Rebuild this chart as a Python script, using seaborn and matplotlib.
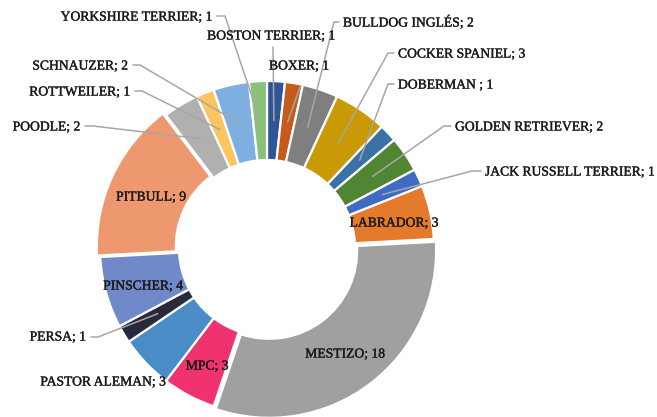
import math
import matplotlib
matplotlib.use("Agg")
import matplotlib.pyplot as plt
import matplotlib.patheffects as pe
import seaborn as sns

# Breeds and counts, clockwise from 12 o'clock
breeds = ["BOSTON TERRIER", "BOXER", "BULLDOG INGLÉS", "COCKER SPANIEL",
          "DOBERMAN ", "GOLDEN RETRIEVER", "JACK RUSSELL TERRIER", "LABRADOR",
          "MESTIZO", "MPC", "PASTOR ALEMAN", "PERSA", "PINSCHER", "PITBULL",
          "POODLE", "ROTTWEILER", "SCHNAUZER", "YORKSHIRE TERRIER"]
counts = [1, 1, 2, 3, 1, 2, 1, 3, 18, 3, 3, 1, 4, 9, 2, 1, 2, 1]
colors = ["#2F5597", "#C55A1A", "#7F7F7F", "#C99A06", "#3A72A8", "#508534",
          "#3F6CC2", "#E57A2C", "#A0A0A0", "#F0336E", "#4A8CC6", "#262A3A",
          "#6F89C9", "#EE9870", "#B0B0B0", "#FDC55F", "#7DB0E0", "#8CC17A"]

W, H = 657, 417
sns.set_theme(style="white")
plt.rcParams["font.family"] = ["Liberation Serif", "DejaVu Serif"]

fig = plt.figure(figsize=(W / 100, H / 100), dpi=100)
ax = fig.add_axes([0, 0, 1, 1])

cx, cy = 267, H - 248
R_OUT, RING = 167, 79

wedges, _ = ax.pie(counts, colors=colors, startangle=90, counterclock=False,
                   radius=R_OUT, center=(cx, cy),
                   wedgeprops=dict(width=RING, edgecolor="white", linewidth=1.6))

ax.set_xlim(0, W)
ax.set_ylim(0, H)
ax.set_aspect("equal")
ax.axis("off")

# pull the two biggest slices slightly outward
for w, name in zip(wedges, breeds):
    if name in ("MESTIZO", "PITBULL"):
        mid = math.radians((w.theta1 + w.theta2) / 2)
        w.set_center((cx + 3.5 * math.cos(mid), cy + 3.5 * math.sin(mid)))


def ring_point(w):
    mid = math.radians((w.theta1 + w.theta2) / 2)
    r = R_OUT - RING / 2
    return cx + r * math.cos(mid), cy + r * math.sin(mid)


def P(x, y):
    return x, H - y


# label placement: text anchor (x, y px), horizontal alignment, leader path start points
layout = {
    "BOSTON TERRIER": ((271, 36), "center", [(273, 47)]),
    "BOXER": ((299, 66), "center", [(300, 87)]),
    "BULLDOG INGLÉS": ((343, 22), "left", [(339, 22), (334, 22)]),
    "COCKER SPANIEL": ((398, 54), "left", [(394, 53), (388, 53)]),
    "DOBERMAN ": ((398, 85), "left", [(394, 84), (388, 84)]),
    "GOLDEN RETRIEVER": ((455, 127), "left", [(451, 126), (444, 126)]),
    "JACK RUSSELL TERRIER": ((485, 172), "left", [(481, 171), (472, 171)]),
    "LABRADOR": ((394, 223), "center", None),
    "MESTIZO": ((345, 354), "center", None),
    "MPC": ((207, 366), "center", None),
    "PASTOR ALEMAN": ((103, 382), "center", None),
    "PERSA": ((86, 337), "right", [(91, 337), (98, 337)]),
    "PINSCHER": ((143, 286), "center", None),
    "PITBULL": ((151, 197), "center", None),
    "POODLE": ((80, 127), "right", [(85, 126), (93, 126)]),
    "ROTTWEILER": ((130, 92), "right", [(135, 91), (142, 91)]),
    "SCHNAUZER": ((128, 66), "right", [(133, 65), (140, 65)]),
    "YORKSHIRE TERRIER": ((212, 17), "right", [(217, 16), (225, 16)]),
}

thicken = [pe.withStroke(linewidth=0.25, foreground="#1A1A1A")]

for w, name, n in zip(wedges, breeds, counts):
    (tx, ty), ha, path = layout[name]
    if path:
        pts = [P(*p) for p in path] + [ring_point(w)]
        xs, ys = zip(*pts)
        ax.plot(xs, ys, color="#A6A6A6", lw=1.1, solid_capstyle="round", zorder=3)
    ax.text(*P(tx, ty), f"{name}; {n}", ha=ha, va="center", fontsize=9.8,
            color="#1A1A1A", zorder=4, path_effects=thicken)

fig.savefig("out.png", dpi=100, facecolor="white")
